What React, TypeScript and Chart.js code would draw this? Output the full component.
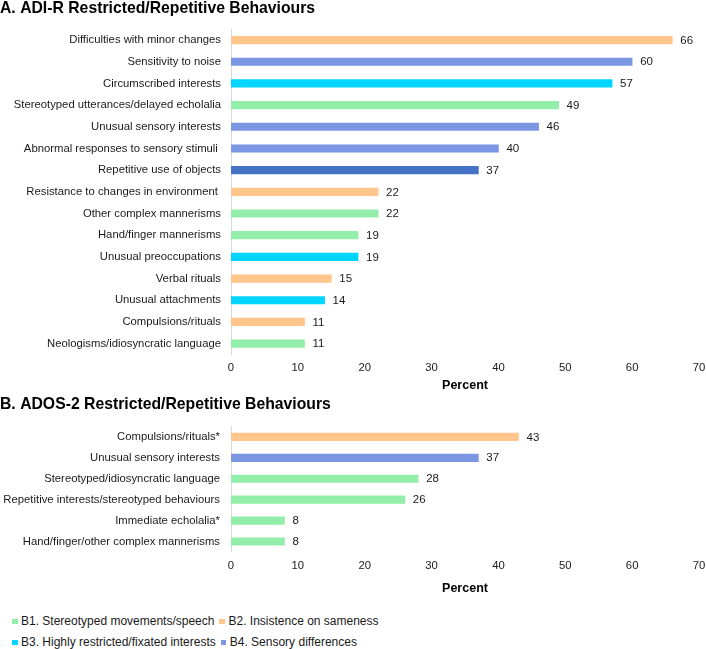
import React, { useEffect, useRef } from "react";
import { Chart, registerables } from "chart.js";

Chart.register(...registerables);

const FONT = "'Liberation Sans', Arial, Helvetica, sans-serif";

// ---------- Data ----------
const adirTitle = "A. ADI-R Restricted/Repetitive Behaviours";
const adirCategories = [
  "Difficulties with minor changes",
  "Sensitivity to noise",
  "Circumscribed interests",
  "Stereotyped utterances/delayed echolalia",
  "Unusual sensory interests",
  "Abnormal responses to sensory stimuli ",
  "Repetitive use of objects",
  "Resistance to changes in environment ",
  "Other complex mannerisms",
  "Hand/finger mannerisms",
  "Unusual preoccupations",
  "Verbal rituals",
  "Unusual attachments",
  "Compulsions/rituals",
  "Neologisms/idiosyncratic language",
];
const adirValues = [66, 60, 57, 49, 46, 40, 37, 22, 22, 19, 19, 15, 14, 11, 11];
const adirGroups = ["B2", "B4", "B3", "B1", "B4", "B4", "X", "B2", "B1", "B1", "B3", "B2", "B3", "B2", "B1"];

const adosTitle = "B. ADOS-2 Restricted/Repetitive Behaviours";
const adosCategories = [
  "Compulsions/rituals*",
  "Unusual sensory interests",
  "Stereotyped/idiosyncratic language",
  "Repetitive interests/stereotyped behaviours",
  "Immediate echolalia*",
  "Hand/finger/other complex mannerisms",
];
const adosValues = [43, 37, 28, 26, 8, 8];
const adosGroups = ["B2", "B4", "B1", "B1", "B1", "B1"];

const axisMin = 0;
const axisMax = 70;
const axisStep = 10;
const axisTitle = "Percent";

const legendGroups = ["B1", "B2", "B3", "B4"];
const legendLabels = [
  "B1. Stereotyped movements/speech",
  "B2. Insistence on sameness",
  "B3. Highly restricted/fixated interests",
  "B4. Sensory differences",
];

// ---------- Styles ----------
const GROUP_COLORS: Record<string, string> = {
  B1: "#93EEAA",
  B2: "#FFC58B",
  B3: "#00D5FF",
  B4: "#7B96E2",
  X: "#4472C4",
};
const TEXT = "#1a1a1a";

const valueLabelPlugin = {
  id: "valueLabels",
  afterDatasetsDraw(chart: any) {
    const ctx = chart.ctx;
    const meta = chart.getDatasetMeta(0);
    const data = chart.data.datasets[0].data;
    ctx.save();
    ctx.font = `11.5px ${FONT}`;
    ctx.fillStyle = TEXT;
    ctx.textAlign = "left";
    ctx.textBaseline = "middle";
    meta.data.forEach((bar: any, i: number) => {
      ctx.fillText(String(data[i]), bar.x + 8, bar.y + 0.5);
    });
    ctx.restore();
  },
};

interface PanelProps {
  title: string;
  categories: string[];
  values: number[];
  groups: string[];
  height: number;
  titlePad: { top: number; bottom: number };
  yPad: number;
  xTitlePad: { top: number; bottom: number };
}

function Panel(p: PanelProps) {
  const ref = useRef<HTMLCanvasElement | null>(null);
  useEffect(() => {
    if (!ref.current) return;
    const chart = new Chart(ref.current, {
      type: "bar",
      data: {
        labels: p.categories,
        datasets: [
          {
            data: p.values,
            backgroundColor: p.groups.map((g) => GROUP_COLORS[g]),
            borderWidth: 0,
            barThickness: 7.5,
          },
        ],
      },
      plugins: [valueLabelPlugin],
      options: {
        indexAxis: "y",
        responsive: false,
        animation: false,
        devicePixelRatio: 1,
        layout: { padding: { left: 0, right: 0, top: 0, bottom: 0 } },
        plugins: {
          legend: { display: false },
          tooltip: { enabled: false },
          title: {
            display: true,
            text: p.title,
            align: "start",
            color: "#000",
            font: { family: FONT, size: 15.75, weight: "bold", lineHeight: 1.1 },
            padding: p.titlePad,
          },
        },
        scales: {
          x: {
            min: axisMin,
            max: axisMax,
            grid: { display: false, drawTicks: false, tickLength: 0 },
            border: { display: false },
            ticks: {
              stepSize: axisStep,
              padding: 7,
              color: TEXT,
              font: { family: FONT, size: 11.3 },
              maxRotation: 0,
            },
            title: {
              display: true,
              text: axisTitle,
              color: "#000",
              font: { family: FONT, size: 12.5, weight: "bold" },
              padding: p.xTitlePad,
            },
            afterFit: (scale: any) => {
              scale.paddingRight = 7;
            },
          },
          y: {
            grid: { display: false, drawTicks: false, tickLength: 0 },
            border: { display: true, color: "#d9d9d9", width: 1 },
            ticks: {
              padding: p.yPad,
              color: TEXT,
              font: { family: FONT, size: 11.3 },
              autoSkip: false,
            },
            afterFit: (scale: any) => {
              scale.width = 231;
            },
          },
        },
      } as any,
    });
    return () => chart.destroy();
  }, []);
  return <canvas ref={ref} width={706} height={p.height} style={{ display: "block" }} />;
}

export default function App() {
  useEffect(() => {
    document.body.style.margin = "0";
  }, []);
  return (
    <div style={{ position: "relative", width: 706, height: 649, fontFamily: FONT, background: "#fff" }}>
      <div style={{ position: "absolute", left: 0, top: 0 }}>
        <Panel
          title={adirTitle}
          categories={adirCategories}
          values={adirValues}
          groups={adirGroups}
          height={394}
          titlePad={{ top: 0, bottom: 11.9 }}
          yPad={10}
          xTitlePad={{ top: -3.5, bottom: 0.5 }}
        />
      </div>
      <div style={{ position: "absolute", left: 0, top: 394 }}>
        <Panel
          title={adosTitle}
          categories={adosCategories}
          values={adosValues}
          groups={adosGroups}
          height={203}
          titlePad={{ top: 2.2, bottom: 12.9 }}
          yPad={11}
          xTitlePad={{ top: 2.0, bottom: 0.5 }}
        />
      </div>
      <div style={{ position: "absolute", left: 12, top: 611, width: 600, fontSize: 12, color: TEXT, lineHeight: "21px" }}>
        {[0, 2].map((start) => (
          <div key={start} style={{ display: "flex", alignItems: "center", height: 21 }}>
            {legendLabels.slice(start, start + 2).map((lab, j) => (
              <div key={lab} style={{ display: "flex", alignItems: "center", marginRight: 5 }}>
                <span
                  style={{
                    display: "inline-block",
                    width: 5.5,
                    height: 5.5,
                    background: GROUP_COLORS[legendGroups[start + j]],
                    marginRight: 3.5,
                  }}
                />
                <span>{lab}</span>
              </div>
            ))}
          </div>
        ))}
      </div>
    </div>
  );
}
